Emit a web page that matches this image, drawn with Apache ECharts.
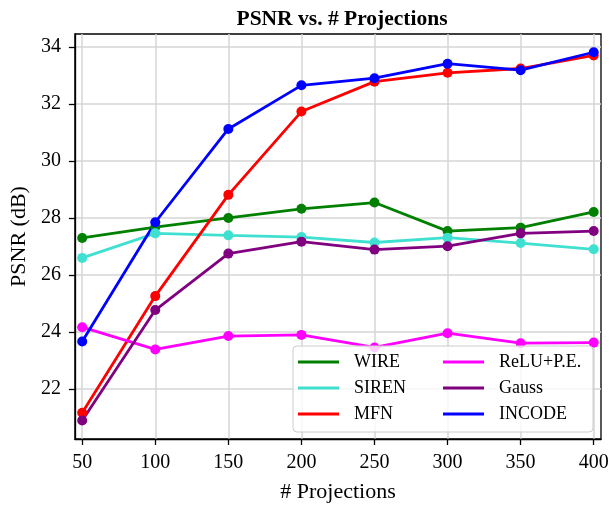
<!DOCTYPE html>
<html>
<head>
<meta charset="utf-8">
<script src="https://cdn.jsdelivr.net/npm/echarts@6/dist/echarts.min.js"></script>
<style>html,body{margin:0;padding:0;background:#fff}#c{width:612px;height:508px}</style>
</head>
<body>
<div id="c"></div>
<script>
const projections = [50, 100, 150, 200, 250, 300, 350, 400];
const yTicks = [22, 24, 26, 28, 30, 32, 34];
const seriesNames = ['WIRE', 'SIREN', 'MFN', 'ReLU+P.E.', 'Gauss', 'INCODE'];
const wire  = [27.30, 27.68, 28.00, 28.32, 28.54, 27.54, 27.66, 28.21];
const siren = [26.60, 27.46, 27.39, 27.33, 27.14, 27.31, 27.12, 26.90];
const mfn   = [21.17, 25.26, 28.81, 31.73, 32.78, 33.09, 33.24, 33.70];
const relu  = [24.17, 23.39, 23.86, 23.90, 23.46, 23.96, 23.61, 23.63];
const gauss = [20.90, 24.77, 26.75, 27.17, 26.89, 27.01, 27.46, 27.54];
const incode= [23.67, 27.85, 31.12, 32.65, 32.90, 33.41, 33.18, 33.81];
const colors = ['#008000', '#40E0D0', '#FF0000', '#FF00FF', '#800080', '#0000FF'];

const allData = [wire, siren, mfn, relu, gauss, incode];
const font = '"Liberation Serif", "DejaVu Serif", serif';
const chart = echarts.init(document.getElementById('c'), null, {renderer: 'canvas'});

const series = seriesNames.map((name, i) => ({
  name: name,
  type: 'line',
  data: projections.map((x, j) => [x, allData[i][j]]),
  symbol: 'circle',
  symbolSize: 10,
  lineStyle: {width: 2.8, color: colors[i]},
  itemStyle: {color: colors[i]},
  emphasis: {disabled: true},
  animation: false
}));

const legendCommon = {
  orient: 'vertical',
  top: 353,
  padding: 0,
  icon: 'rect',
  itemWidth: 41,
  itemHeight: 3,
  itemGap: 8,
  selectedMode: false,
  z: 110,
  textStyle: {fontFamily: font, fontSize: 18, color: '#000', lineHeight: 18, padding: [0, 0, 0, 10]}
};

chart.setOption({
  backgroundColor: '#fff',
  animation: false,
  color: colors,
  title: {
    text: 'PSNR vs. # Projections',
    left: 337, textAlign: 'center', top: 3,
    textStyle: {fontFamily: font, fontWeight: 'bold', fontSize: 21.5, color: '#000'}
  },
  grid: {left: 74, top: 34, width: 527, height: 408, show: true, borderColor: '#000', borderWidth: 1.3, backgroundColor: 'transparent'},
  xAxis: {
    type: 'value', min: 45, max: 405,
    name: '# Projections', nameLocation: 'middle', nameGap: 42,
    nameTextStyle: {fontFamily: font, fontSize: 22, color: '#000'},
    axisLine: {show: true, lineStyle: {color: '#000', width: 1.3}},
    axisTick: {show: true, length: 6, lineStyle: {color: '#000', width: 1.3}, customValues: projections},
    axisLabel: {fontFamily: font, fontSize: 20, color: '#000', margin: 14, customValues: projections},
    splitLine: {show: true, lineStyle: {color: '#d6d6d6', width: 1.5}}
  },
  yAxis: {
    type: 'value', min: 20.25, max: 34.45,
    name: 'PSNR (dB)', nameLocation: 'middle', nameGap: 40,
    nameTextStyle: {fontFamily: font, fontSize: 22, color: '#000'},
    axisLine: {show: true, lineStyle: {color: '#000', width: 1.3}},
    axisTick: {show: true, length: 6, lineStyle: {color: '#000', width: 1.3}, customValues: yTicks},
    axisLabel: {fontFamily: font, fontSize: 20, color: '#000', margin: 14, customValues: yTicks},
    splitLine: {show: true, lineStyle: {color: '#d6d6d6', width: 1.5}}
  },
  legend: [
    Object.assign({left: 298, data: seriesNames.slice(0, 3)}, legendCommon),
    Object.assign({left: 443, data: seriesNames.slice(3)}, legendCommon)
  ],
  graphic: [{
    type: 'rect', z: 100,
    shape: {x: 293, y: 346, width: 300, height: 86, r: 4},
    style: {fill: 'rgba(255,255,255,0.8)', stroke: '#cccccc', lineWidth: 1}
  }],
  series: series
});
</script>
</body>
</html>
